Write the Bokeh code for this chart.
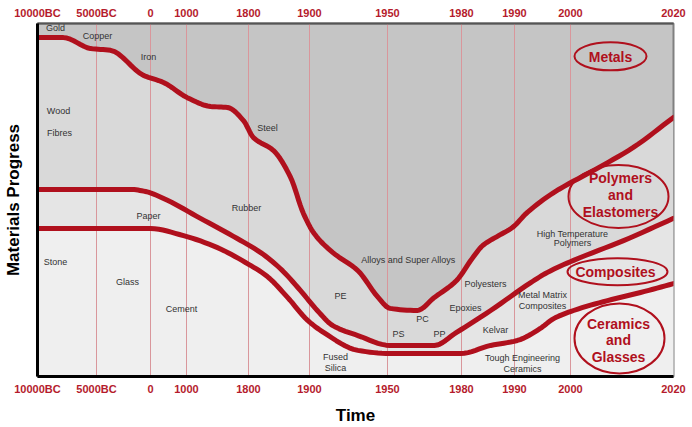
import numpy as np
from bokeh.plotting import figure
from bokeh.models import Range1d, FixedTicker, LinearAxis, ColumnDataSource
from bokeh.core.properties import value
from bokeh.embed import file_html
from bokeh.resources import INLINE

# ---- axis (non-uniform time axis) ----
TICK_LABELS = ["10000BC", "5000BC", "0", "1000", "1800", "1900", "1950", "1980", "1990", "2000", "2020"]
TICK_YEARS = [-10000, -5000, 0, 1000, 1800, 1900, 1950, 1980, 1990, 2000, 2020]
TICK_POS = [0, 59, 113, 149, 211, 272, 350, 424, 477, 533, 636]

# ---- boundary curves (year, relative progress 0-100) ----
METALS_YEAR = [-10000, -7800, -5500, -3700, -650, 360, 1010, 1310, 1530, 1735, 1808, 1841, 1869, 1890,
               1903, 1915, 1931, 1944, 1951, 1962, 1969, 1978, 1982, 1984, 1987, 1989.6, 1992.3, 1997,
               2004.5, 2012.2, 2020]
METALS_PROG = [96.0, 96.0, 92.9, 92.4, 85.3, 83.3, 79.0, 76.5, 76.2, 72.5, 67.7, 64.0, 56.4, 46.2,
               40.5, 35.1, 30.0, 22.4, 19.3, 18.7, 22.4, 27.2, 33.4, 37.1, 39.9, 42.2, 46.5, 52.1,
               58.4, 64.9, 73.4]

POLY_YEAR = [-10000, -1850, -460, 470, 1180, 1605, 1820, 1852, 1885, 1905, 1915, 1931, 1951, 1969,
             1978, 1985.5, 1992.9, 1995.9, 2000.6, 2010.3, 2020]
POLY_PROG = [53.0, 53.0, 52.4, 49.9, 44.8, 39.7, 35.1, 30.6, 24.4, 18.7, 14.4, 11.6, 8.8, 8.8,
             12.5, 18.7, 26.6, 29.5, 32.9, 38.5, 44.8]

COMP_YEAR = [-10000, 0, 917, 1400, 1761, 1831, 1864, 1897, 1909, 1931, 1951, 1979.6, 1985.5, 1990.5,
             1994.6, 1997, 2000.6, 2007.2, 2013.6, 2020]
COMP_PROG = [41.9, 41.9, 39.9, 36.5, 32.3, 28.3, 22.4, 15.9, 12.5, 7.4, 6.5, 6.5, 8.8, 10.2,
             13.6, 16.4, 18.7, 21.5, 23.8, 26.3]

# ---- material labels ----
MAT_TEXT = ["Gold", "Copper", "Iron", "Wood", "Fibres", "Steel", "Rubber", "Paper", "Stone", "Glass",
            "Cement", "PE", "Alloys and Super Alloys", "Polyesters", "PC", "Epoxies", "PS", "PP",
            "Kelvar", "Metal Matrix", "Composites", "High Temperature", "Polymers", "Fused", "Silica",
            "Tough Engineering", "Ceramics"]
MAT_X = [18, 60, 111, 21, 22, 230, 209, 111, 18, 90, 144, 303, 371, 448, 385, 428, 361, 402,
         458, 505, 505, 535, 535, 298, 298, 485, 485]
MAT_Y = [98.6, 96.6, 90.4, 75.1, 69.1, 70.5, 47.6, 45.6, 32.3, 26.9, 19.0, 22.9, 32.9, 26.3, 16.4,
         19.3, 11.9, 11.9, 13.3, 23.2, 20.1, 40.5, 37.7, 5.4, 2.3, 5.1, 2.0]

# ---- class labels in ellipses ----
CLASS_TEXT = ["Metals", "Polymers", "and", "Elastomers", "Composites", "Ceramics", "and", "Glasses"]
CLASS_X = [573, 583, 583, 583, 578, 581, 581, 581]
CLASS_Y = [90.4, 56.1, 51.3, 46.5, 29.5, 15.0, 10.2, 5.4]
ELL_X = [573, 581, 580, 582]
ELL_Y = [90.7, 51.0, 29.7, 10.8]
ELL_W = [72, 100, 100, 90]
ELL_H = [28, 63, 27, 70]

RED = "#b0101d"
LABEL_RED = "#b51b2c"
FONT = "Liberation Sans"


def to_pos(years):
    return np.interp(years, TICK_YEARS, TICK_POS)


def smooth(x, y, n=8):
    """monotone cubic (PCHIP) rendering of a polyline through the read points"""
    x = np.asarray(x, float); y = np.asarray(y, float)
    h = np.diff(x); dl = np.diff(y) / h
    d = np.zeros_like(y)
    d[0], d[-1] = dl[0], dl[-1]
    for k in range(1, len(x) - 1):
        if dl[k - 1] * dl[k] <= 0:
            d[k] = 0.0
        else:
            w1 = 2 * h[k] + h[k - 1]; w2 = h[k] + 2 * h[k - 1]
            d[k] = (w1 + w2) / (w1 / dl[k - 1] + w2 / dl[k])
    xs, ys = [], []
    for k in range(len(x) - 1):
        t = np.linspace(0, 1, n, endpoint=False)
        h00 = 2 * t**3 - 3 * t**2 + 1; h10 = t**3 - 2 * t**2 + t
        h01 = -2 * t**3 + 3 * t**2; h11 = t**3 - t**2
        xs.extend(x[k] + t * h[k])
        ys.extend(h00 * y[k] + h10 * h[k] * d[k] + h01 * y[k + 1] + h11 * h[k] * d[k + 1])
    xs.append(x[-1]); ys.append(y[-1])
    return list(xs), list(ys)


p = figure(width=692, height=427, x_range=Range1d(0, 636), y_range=Range1d(0, 100),
           output_backend="svg", toolbar_location=None,
           x_axis_location=None, y_axis_location=None,
           min_border_left=37, min_border_right=19, min_border_top=23, min_border_bottom=51)
p.grid.visible = False
p.background_fill_color = "#c5c5c5"
p.border_fill_color = "white"
p.outline_line_color = "#808080"
p.outline_line_width = 2

ma_x, ma_y = smooth(to_pos(METALS_YEAR), METALS_PROG)
po_x, po_y = smooth(to_pos(POLY_YEAR), POLY_PROG)
co_x, co_y = smooth(to_pos(COMP_YEAR), COMP_PROG)

# regions (layered from top to bottom)
p.patch(ma_x + [636, 0], ma_y + [0, 0], fill_color="#d9d9d9", line_color=None)
p.patch(po_x + [636, 0], po_y + [0, 0], fill_color="#e5e5e5", line_color=None)
p.patch(co_x + [636, 0], co_y + [0, 0], fill_color="#efefef", line_color=None)

# vertical reference lines at time ticks
gx = TICK_POS[1:-1]
p.segment(x0=gx, y0=[0] * len(gx), x1=gx, y1=[100] * len(gx), line_color="#d9969b", line_width=1)

# boundary curves
for xs, ys in [(ma_x, ma_y), (po_x, po_y), (co_x, co_y)]:
    p.line(xs, ys, line_color=RED, line_width=5, line_join="round", line_cap="round")

# material labels
p.text(x="x", y="y", text="t", source=ColumnDataSource(dict(x=MAT_X, y=MAT_Y, t=MAT_TEXT)),
       text_font=value(FONT), text_font_size=value("9px"), text_color="#333333",
       text_align="center", text_baseline="middle")

# class ellipses and labels
p.ellipse(x=ELL_X, y=ELL_Y, width=ELL_W, height=ELL_H, width_units="screen", height_units="screen",
          fill_color=None, line_color=RED, line_width=2)
p.text(x="x", y="y", text="t", source=ColumnDataSource(dict(x=CLASS_X, y=CLASS_Y, t=CLASS_TEXT)),
       text_font=value(FONT), text_font_size=value("14px"), text_font_style="bold",
       text_color=RED, text_align="center", text_baseline="middle")

overrides = {pos: lab for pos, lab in zip(TICK_POS, TICK_LABELS)}


def time_axis(label):
    ax = LinearAxis(ticker=FixedTicker(ticks=TICK_POS, minor_ticks=[]),
                    major_label_overrides=overrides)
    ax.major_label_text_font = FONT
    ax.major_label_text_font_style = "bold"
    ax.major_label_text_font_size = "11px"
    ax.major_label_text_color = LABEL_RED
    ax.major_tick_out = 0
    ax.major_tick_in = 0
    ax.minor_tick_out = 0
    ax.minor_tick_in = 0
    if label:
        ax.axis_label = label
        ax.axis_label_text_font = FONT
        ax.axis_label_text_font_style = "bold"
        ax.axis_label_text_font_size = "17px"
        ax.axis_label_text_color = "black"
        ax.axis_label_standoff = 8
        ax.major_label_standoff = 6
        ax.axis_line_color = "black"
        ax.axis_line_width = 3
    else:
        ax.major_label_standoff = 5
        ax.axis_line_color = "#555555"
        ax.axis_line_width = 2
    return ax


p.add_layout(time_axis("Time"), "below")
p.add_layout(time_axis(None), "above")

yax = LinearAxis(ticker=FixedTicker(ticks=[]), axis_label="Materials Progress")
yax.axis_label_text_font = FONT
yax.axis_label_text_font_style = "bold"
yax.axis_label_text_font_size = "17px"
yax.axis_label_text_color = "black"
yax.axis_label_standoff = 15
yax.major_label_standoff = 0
yax.major_tick_out = 0
yax.major_tick_in = 0
yax.minor_tick_out = 0
yax.axis_line_color = "black"
yax.axis_line_width = 3
p.add_layout(yax, "left")

open("out.html", "w").write(file_html(p, INLINE))
